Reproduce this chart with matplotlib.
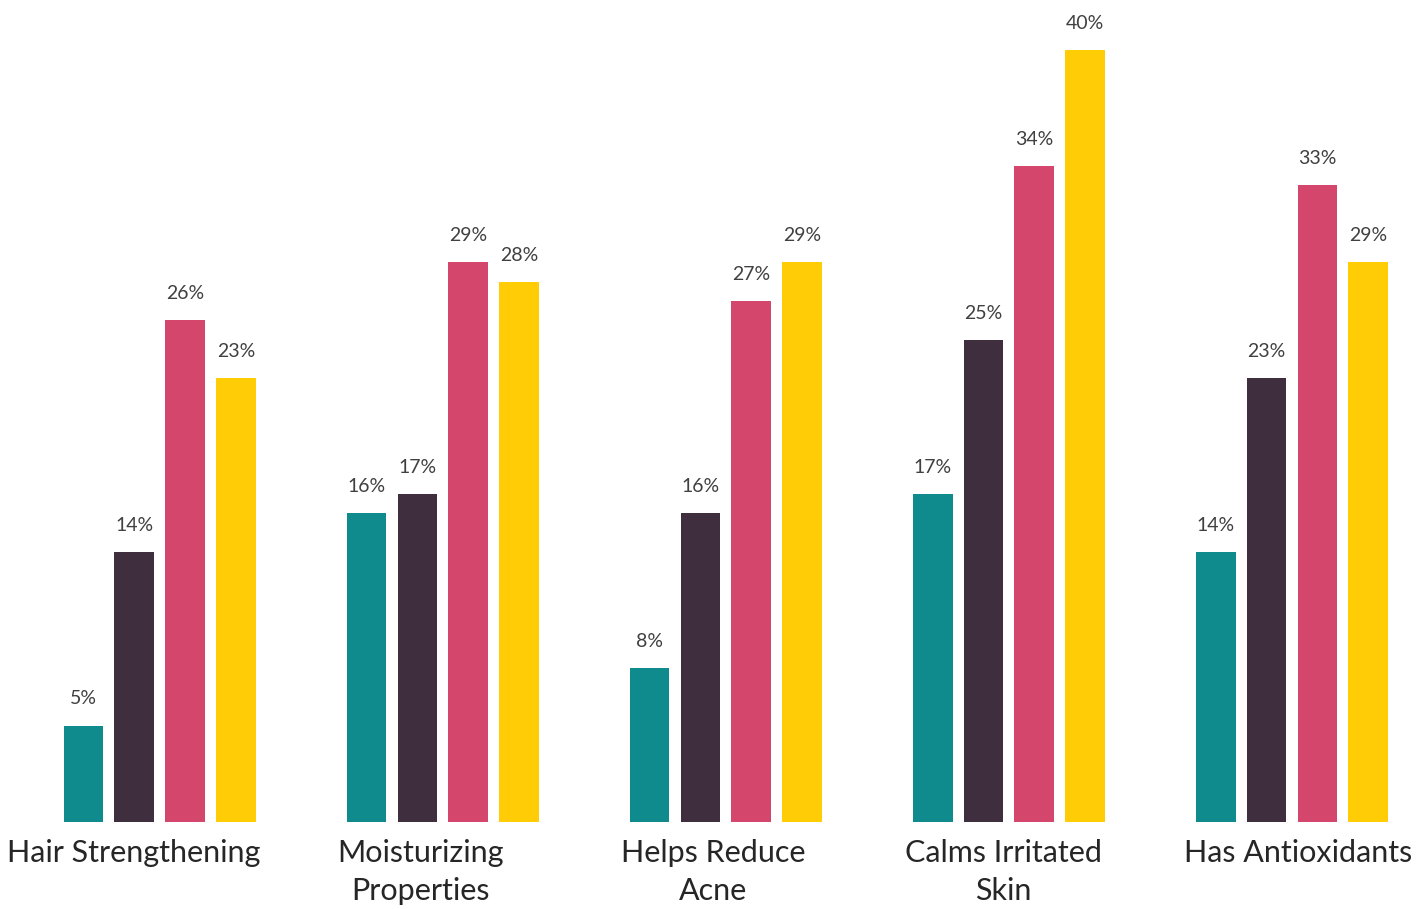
import matplotlib.pyplot as plt
import numpy as np

# categories and series values (percent)
categories = ["Hair Strengthening", "Moisturizing\nProperties", "Helps Reduce\nAcne",
              "Calms Irritated\nSkin", "Has Antioxidants"]
series_a = [5, 16, 8, 17, 14]
series_b = [14, 17, 16, 25, 23]
series_c = [26, 29, 27, 34, 33]
series_d = [23, 28, 29, 40, 29]

colors = ["#0F8B8D", "#3F2E3E", "#D4466C", "#FFCC05"]

plt.rcParams['font.family'] = ['Lato', 'DejaVu Sans']

fig = plt.figure(figsize=(14.27, 9.09), dpi=100)
ax = fig.add_axes([0, 0.0957, 1, 0.9043])

x = np.arange(len(categories))
pitch = 0.18
width = 0.141
all_series = [series_a, series_b, series_c, series_d]
for i, vals in enumerate(all_series):
    pos = x + (i - 1.5) * pitch
    ax.bar(pos, vals, width=width, color=colors[i], zorder=2)
    for px, v in zip(pos, vals):
        ax.annotate(f"{v}%", xy=(px, v), xytext=(0, 13), textcoords="offset points",
                    ha="center", va="bottom", fontsize=14, color="#404040")

# category labels under each group (wrapped labels sit a bit left of centre)
label_shift = [-0.092, -0.078, -0.046, -0.021, 0.021]
for xi, dx, cat in zip(x, label_shift, categories):
    ax.annotate(cat, xy=(xi + dx, 0), xytext=(0, -12), textcoords="offset points",
                ha="center", va="top", fontsize=22, color="#262626",
                linespacing=1.45, annotation_clip=False)

ax.set_xlim(-0.565, 4.477)
ax.set_ylim(0, 42.6)
ax.axis("off")

fig.savefig("out.png", dpi=100)
